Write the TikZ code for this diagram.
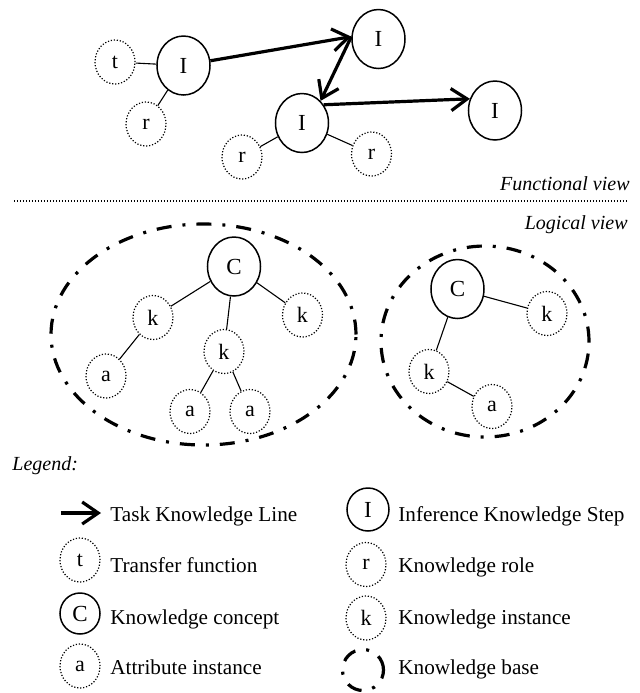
\documentclass[tikz,border=0pt]{standalone}
\usepackage{fontspec}
\setmainfont{Liberation Serif}
\usetikzlibrary{arrows.meta,shapes.geometric}

\tikzset{
  istep/.style={draw, ellipse, line width=0.75pt, inner sep=0pt, font=\fontsize{11.5}{13}\selectfont,
    minimum width=26.5pt, minimum height=29.5pt},
  dotnode/.style={draw, ellipse, line width=0.6pt, dash pattern=on 0.6pt off 0.9pt,
    inner sep=0pt, font=\fontsize{11}{13}\selectfont, minimum width=20pt, minimum height=22pt},
  kbline/.style={line width=1.6pt, dash pattern=on 7.5pt off 5.5pt on 1.5pt off 5.5pt},
  taskline/.style={line width=1.6pt, -{Straight Barb[length=8pt,width=11pt]}},
  thinline/.style={line width=0.55pt},
  lbl/.style={inner sep=0pt}
}

\begin{document}
\begin{tikzpicture}[x=0.5pt, y=-0.5pt, font=\fontsize{10.6}{12.6}\selectfont]
\useasboundingbox (0,0) rectangle (640,693);

% functional view
\node[istep] (i1) at (183.5,65.5) {I};
\node[istep] (i2) at (378.5,39) {I};
\node[istep] (i3) at (302,123) {I};
\node[istep] (i4) at (495,110.5) {I};
\node[dotnode] (t1) at (115,62) {t};
\node[dotnode] (r1) at (146,124) {r};
\node[dotnode] (r2) at (242,157) {r};
\node[dotnode] (r3) at (371.5,154) {r};
\draw[thinline] (t1) -- (i1) (r1) -- (i1) (r2) -- (i3) (r3) -- (i3);
\draw[taskline] (i1.10) -- (i2.175);
\draw[taskline] (i2.175) -- (i3.50);
\draw[taskline] (i3.40) -- (i4.155);
\node[lbl, anchor=base east, font=\itshape] (fview) at (630,190) {Functional view};

\draw[line width=0.6pt, dash pattern=on 0.6pt off 0.9pt] (14,201) -- (628,201);

% logical view
\node[lbl, anchor=base east, font=\itshape] (lview) at (628,229) {Logical view};
\node[draw, kbline, ellipse, minimum width=152.5pt, minimum height=110.5pt] (kb1) at (203.5,334.5) {};
\node[istep] (c1) at (234,266.5) {C};
\node[dotnode] (k1) at (153,317.5) {k};
\node[dotnode] (k2) at (224,351.5) {k};
\node[dotnode] (k3) at (302.5,315) {k};
\node[dotnode] (a1) at (106,376) {a};
\node[dotnode] (a2) at (190,411.5) {a};
\node[dotnode] (a3) at (250,411.5) {a};
\draw[thinline] (c1) -- (k1) (c1) -- (k2) (c1) -- (k3) (k1) -- (a1) (k2) -- (a2) (k2) -- (a3);

\node[draw, kbline, ellipse, minimum width=104pt, minimum height=95.5pt] (kb2) at (485,341.5) {};
\node[istep] (c2) at (457.5,289) {C};
\node[dotnode] (k4) at (547,313.5) {k};
\node[dotnode] (k5) at (429,371.5) {k};
\node[dotnode] (a4) at (492,406.5) {a};
\draw[thinline] (c2) -- (k4) (c2) -- (k5) (k5) -- (a4);

% legend
\node[lbl, anchor=base west, font=\itshape] (leg) at (12,470) {Legend:};
\coordinate (arrS) at (61,513);
\coordinate (arrE) at (101,513);
\draw[taskline] (arrS) -- (arrE);
\node[lbl, anchor=base west] (ltask) at (110,521) {Task Knowledge Line};
\node[dotnode] (lt) at (80,560) {t};
\node[lbl, anchor=base west] (ltf) at (110,572.5) {Transfer function};
\node[istep, minimum width=20pt, minimum height=20.5pt] (lc) at (80,613.5) {C};
\node[lbl, anchor=base west] (lcon) at (110,624) {Knowledge concept};
\node[dotnode] (la) at (80,666) {a};
\node[lbl, anchor=base west] (lattr) at (110,674) {Attribute instance};

\node[istep, minimum width=21pt, minimum height=21.5pt] (li) at (368,509.5) {I};
\node[lbl, anchor=base west] (linf) at (398,521) {Inference Knowledge Step};
\node[dotnode] (lr) at (366,564.5) {r};
\node[lbl, anchor=base west] (lrole) at (398,572.5) {Knowledge role};
\node[dotnode] (lk) at (366,618) {k};
\node[lbl, anchor=base west] (linst) at (398,624) {Knowledge instance};
\node[draw, kbline, circle, minimum size=20.5pt] (lkb) at (363,670) {};
\node[lbl, anchor=base west] (lbase) at (398,674) {Knowledge base};
\end{tikzpicture}
\end{document}
